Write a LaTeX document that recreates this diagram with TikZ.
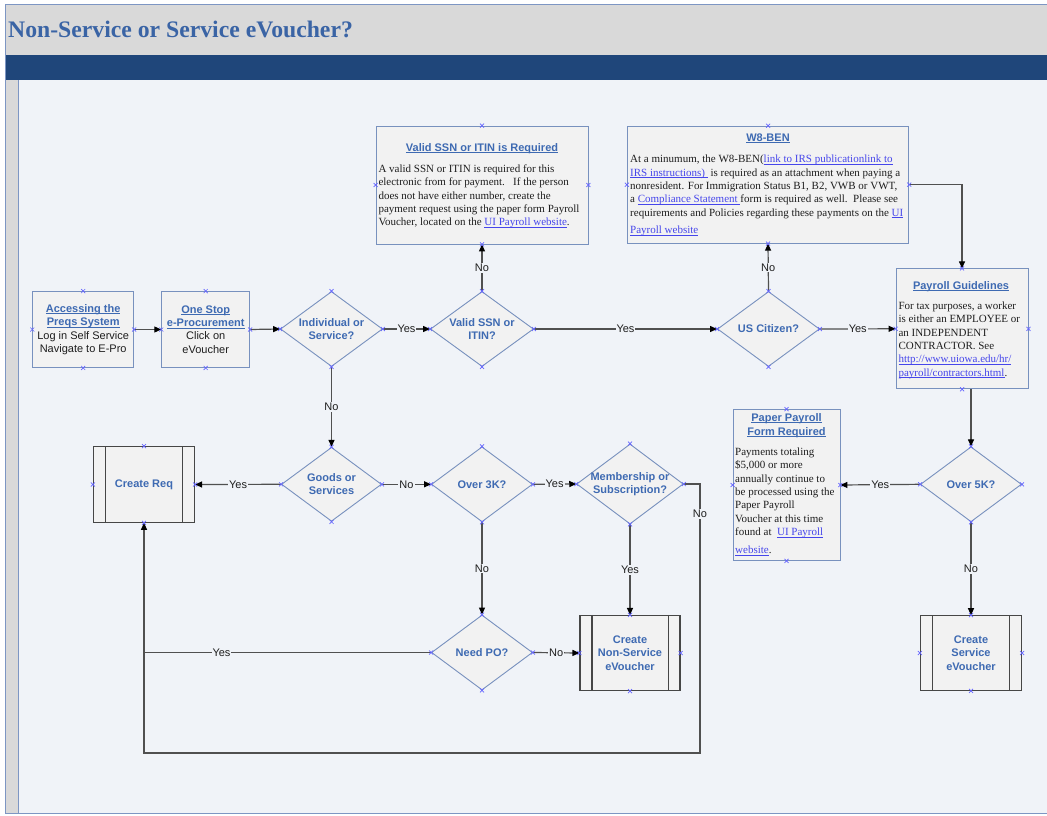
\documentclass[tikz,border=0pt]{standalone}
\usepackage{fontspec}
\setmainfont{Liberation Serif}
\setsansfont{Liberation Sans}
\usetikzlibrary{shapes.geometric,arrows.meta,calc}
\definecolor{bgc}{RGB}{240,243,248}
\definecolor{barblue}{RGB}{31,70,122}
\definecolor{titlegray}{RGB}{217,217,217}
\definecolor{framec}{RGB}{125,150,195}
\definecolor{shapeb}{RGB}{120,145,190}
\definecolor{shapef}{RGB}{242,242,242}
\definecolor{ppb}{RGB}{70,70,70}
\definecolor{tblue}{RGB}{62,106,178}
\definecolor{lblue}{RGB}{70,70,235}
\definecolor{linec}{RGB}{80,80,80}
\definecolor{xmc}{RGB}{100,100,255}
\definecolor{txt}{RGB}{30,30,30}
\definecolor{headblue}{RGB}{58,100,165}
\newcommand\myul[1]{\leavevmode\setbox0\hbox{#1}\rlap{\rule[-1.7pt]{\wd0}{0.7pt}}\box0}
\newcommand\mylink[1]{\textcolor{lblue}{\myul{#1}}}
\begin{document}
\begin{tikzpicture}[x=1pt,y=-1pt,
  shp/.style={draw=shapeb, fill=shapef, line width=0.9pt},
  dia/.style={shp, diamond, inner sep=0pt},
  box/.style={shp, rectangle, inner sep=0pt},
  pproc/.style={draw=ppb, fill=shapef, line width=1.1pt, rectangle, inner sep=0pt},
  ppline/.style={draw=ppb, line width=1.1pt},
  sfs/.style={font=\sffamily\fontsize{11}{13.4}\selectfont},
  dtxt/.style={font=\sffamily\bfseries\fontsize{11}{13.4}\selectfont, text=tblue, align=center, inner sep=0pt},
  btxt/.style={font=\rmfamily\fontsize{11}{13.35}\selectfont, text=txt, align=left, inner sep=0pt, anchor=north west},
  htxt/.style={font=\sffamily\bfseries\fontsize{11}{14}\selectfont, text=tblue, align=center, inner sep=0pt},
  conn/.style={draw=linec, line width=1.2pt},
  arr/.style={conn, -{Triangle[length=7pt,width=6pt,color=black]}},
  lab/.style={font=\sffamily\fontsize{11}{13}\selectfont, text=txt, fill=bgc, inner sep=1pt},
  xm/.style={draw=xmc, line width=0.7pt},
]
\useasboundingbox (0,0) rectangle (1047,816);
% background and frame
\fill[white] (0,0) rectangle (1047,816);
\fill[titlegray] (5,4.5) rectangle (1047,55);
\fill[barblue] (5,55) rectangle (1047,80.5);
\fill[bgc] (18,80.5) rectangle (1047,813);
\fill[titlegray] (6,80.5) rectangle (18,813);
\draw[framec, line width=0.8pt] (18.3,80.5) -- (18.3,813);
\draw[framec, line width=1pt] (1050,4.5) -- (5,4.5) -- (5,813) -- (1050,813);
\node[anchor=west, font=\fontsize{23.7}{25}\selectfont\bfseries, text=headblue, inner sep=0pt] (title) at (8,29) {Non-Service or Service eVoucher?};

% row 1
\node[box, minimum width=101, minimum height=76, sfs, align=center, text=txt] (acc) at (83.2,329.5)
  {\textcolor{tblue}{\bfseries\myul{Accessing the}}\\ \textcolor{tblue}{\bfseries\myul{Preqs System}}\\ Log in Self Service\\ Navigate to E-Pro};
\node[box, minimum width=88, minimum height=76, sfs, align=center, text=txt] (one) at (205.7,329.5)
  {\textcolor{tblue}{\bfseries\myul{One Stop}}\\ \textcolor{tblue}{\bfseries\myul{e-Procurement}}\\ Click on\\ eVoucher};
\node[dia, minimum width=102, minimum height=75] (ind) at (331.5,329) {};
\node[dtxt] (indt) at (ind) {Individual or\\Service?};
\node[dia, minimum width=103, minimum height=75] (ssnq) at (482,329) {};
\node[dtxt] (ssnqt) at (ssnq) {Valid SSN or\\ITIN?};
\node[dia, minimum width=102, minimum height=75] (usc) at (768.5,329) {};
\node[dtxt] (usct) at (usc) {US Citizen?};

% SSN box
\node[box, minimum width=212, minimum height=118] (ssnb) at (482,185) {};
\node[htxt, anchor=base] (ssnbt) at (482,151.3) {\myul{Valid SSN or ITIN is Required}};
\node[btxt] (ssnbb) at (378.3,164.5) {A valid SSN or ITIN is required for this\\
electronic from for payment.\ \ \ If the person\\
does not have either number, create the\\
payment request using the paper form Payroll\\
Voucher, located on the \mylink{UI Payroll website}.};

% W8 box
\node[box, minimum width=281.5, minimum height=117] (w8) at (768,184.7) {};
\node[htxt, anchor=base] (w8t) at (768,141.3) {\myul{W8-BEN}};
\node[btxt] (w8b) at (630,155) {At a minumum, the W8-BEN(\mylink{link to IRS publicationlink to}\\
\mylink{IRS instructions)\ } is required as an attachment when paying a\\
nonresident. For Immigration Status B1, B2, VWB or VWT,\\
a \mylink{Compliance Statement\ }form is required as well.\ \ Please see\\
requirements and Policies regarding these payments on the \mylink{UI}\\[4.4pt]
\mylink{Payroll website}};

% Payroll guidelines
\node[box, minimum width=132, minimum height=120] (pg) at (962,328.8) {};
\node[htxt, anchor=base] (pgt) at (961,289) {\myul{Payroll Guidelines}};
\node[btxt] (pgb) at (898.3,301.6) {For tax purposes, a worker\\
is either an EMPLOYEE or\\
an INDEPENDENT\\
CONTRACTOR. See\\
\mylink{http://www.uiowa.edu/hr/}\\
\mylink{payroll/contractors.html}.};

% row 2
\node[pproc, minimum width=101, minimum height=75.6] (creq) at (144,484.5) {};
\node[dtxt] (creqt) at (creq) {Create Req};
\node[dia, minimum width=100, minimum height=74] (goods) at (331.5,484.3) {};
\node[dtxt] (goodst) at (goods) {Goods or\\Services};
\node[dia, minimum width=101, minimum height=75] (o3k) at (482,484.3) {};
\node[dtxt] (o3kt) at (o3k) {Over 3K?};
\node[dia, minimum width=106.6, minimum height=80] (memb) at (630,484) {};
\node[dtxt] (membt) at (memb) {Membership or\\Subscription?};
\node[box, minimum width=107, minimum height=151] (paper) at (786.5,485) {};
\node[htxt, anchor=north] (papert) at (786.5,413) {\myul{Paper Payroll}\\ \myul{Form Required}};
\node[btxt] (paperb) at (735,447.6) {Payments totaling\\
\$5,000 or more\\
annually continue to\\
be processed using the\\
Paper Payroll\\
Voucher at this time\\
found at\ \ \mylink{UI Payroll}\\[5pt]
\mylink{website}.};
\node[dia, minimum width=101, minimum height=75] (o5k) at (971,484.3) {};
\node[dtxt] (o5kt) at (o5k) {Over 5K?};

% row 3
\node[dia, minimum width=101, minimum height=75] (needpo) at (482,652.5) {};
\node[dtxt] (needpot) at (needpo) {Need PO?};
\node[pproc, minimum width=100, minimum height=75] (nonserv) at (630,653) {};
\node[dtxt] (nonservt) at (nonserv) {Create\\Non-Service\\eVoucher};
\node[pproc, minimum width=101, minimum height=74.5] (serv) at (971,653) {};
\node[dtxt] (servt) at (serv) {Create\\Service\\eVoucher};

\foreach \n in {creq,nonserv,serv}{
  \draw[ppline] ([xshift=12.5pt]\n.north west) -- ([xshift=12.5pt]\n.south west);
  \draw[ppline] ([xshift=-12.5pt]\n.north east) -- ([xshift=-12.5pt]\n.south east);
}

% connectors
\draw[arr] (acc.east) -- (one.west);
\draw[arr] (one.east) -- (ind.west);
\draw[arr] (ind.east) -- node[lab]{Yes} (ssnq.west);
\draw[arr] (ssnq.north) -- node[lab]{No} (ssnb.south);
\draw[arr] (ssnq.east) -- node[lab]{Yes} (usc.west);
\draw[arr] (usc.north) -- node[lab]{No} (w8.south);
\draw[arr] (usc.east) -- node[lab]{Yes} (pg.west);
\draw[arr] (w8.east) -| (pg.north);
\draw[arr] (o5k.north |- pg.south) -- (o5k.north);
\draw[arr] (o5k.west) -- node[lab]{Yes} (paper.east);
\draw[arr] (o5k.south) -- node[lab]{No} (serv.north);
\draw[arr] (ind.south) -- node[lab]{No} (goods.north);
\draw[arr] (goods.west) -- node[lab]{Yes} (creq.east);
\draw[arr] (goods.east) -- node[lab]{No} (o3k.west);
\draw[arr] (o3k.east) -- node[lab]{Yes} (memb.west);
\draw[arr] (o3k.south) -- node[lab]{No} (needpo.north);
\draw[arr] (memb.south) -- node[lab]{Yes} (nonserv.north);
\draw[arr] (needpo.east) -- node[lab]{No} (nonserv.west);
\coordinate (loopR) at (700,753);
\draw[arr] (memb.east) -| node[lab,pos=0.556]{No} (loopR) -| (creq.south);
\draw[conn] (needpo.west) -- node[lab,pos=0.73]{Yes} (creq.south |- needpo.west);

% connection point markers
\foreach \n in {acc,one,ind,ssnq,usc,ssnb,w8,pg,creq,goods,o3k,memb,paper,o5k,needpo,nonserv,serv}{
  \foreach \a in {north,south,east,west}{
    \draw[xm] (\n.\a) +(-2,-2) -- +(2,2) +(-2,2) -- +(2,-2);
  }
}
\end{tikzpicture}
\end{document}
